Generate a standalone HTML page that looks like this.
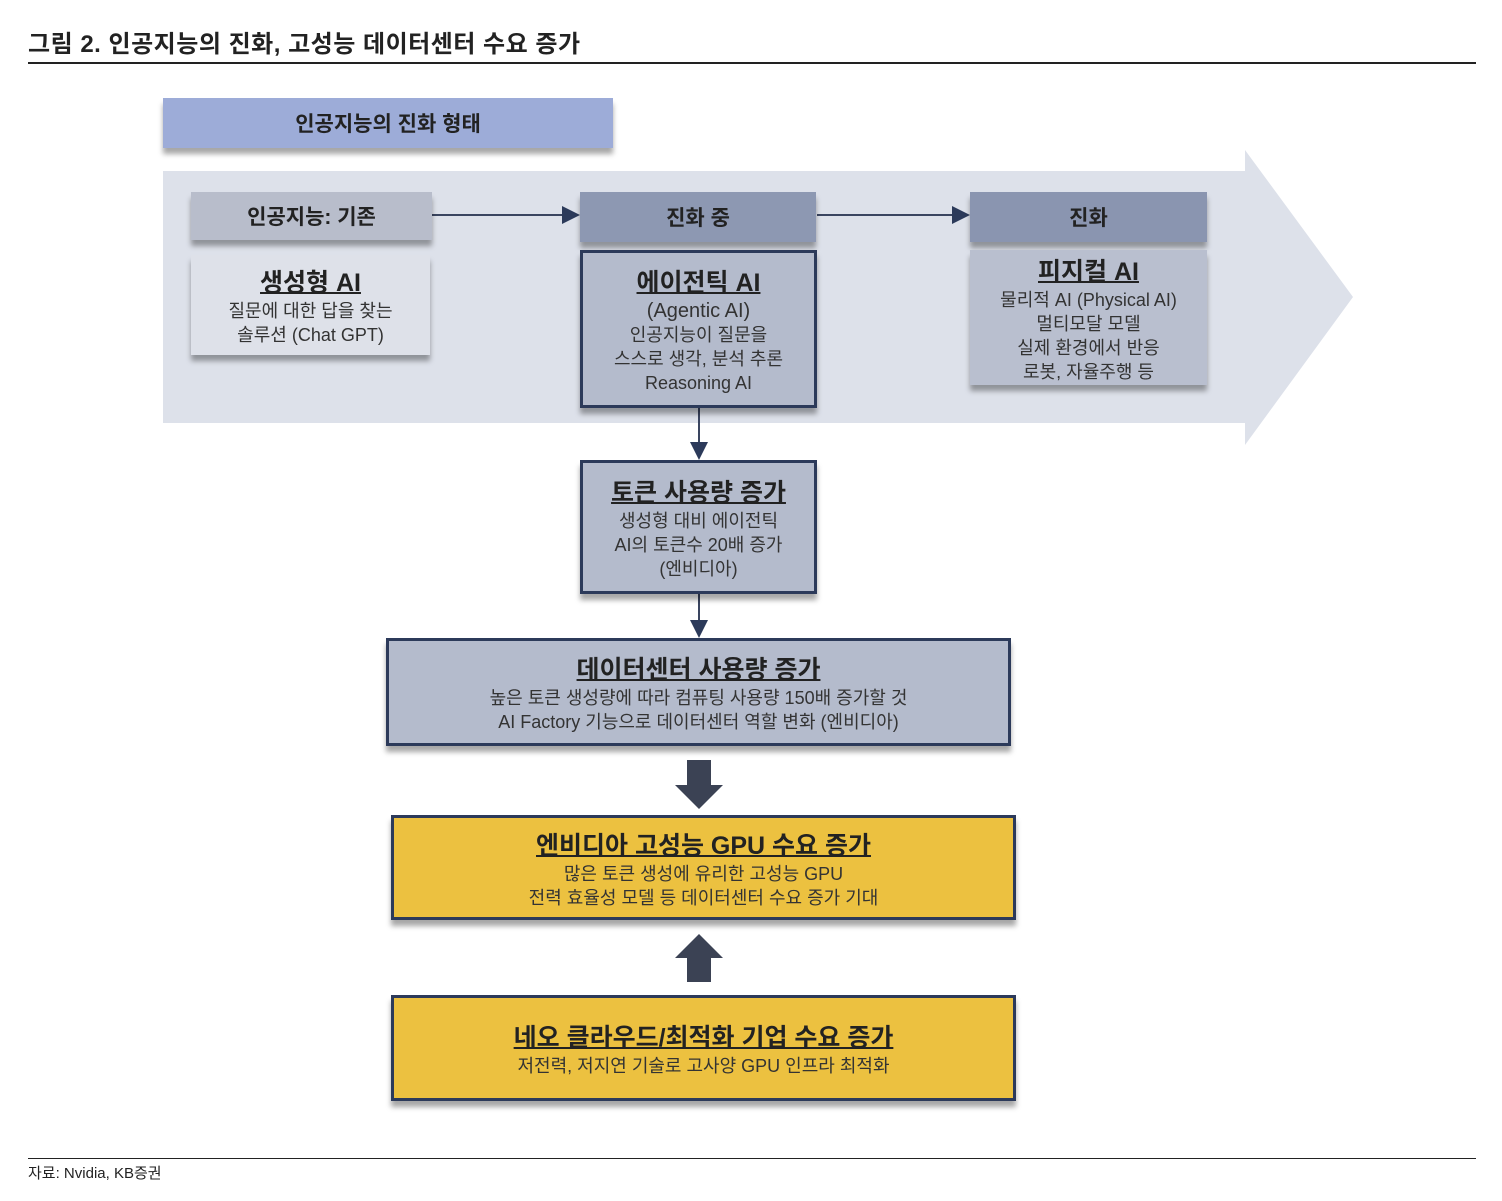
<!DOCTYPE html>
<html><head><meta charset="utf-8"><style>
body{margin:0;width:1502px;height:1201px;background:#fff;position:relative;font-family:"Liberation Sans","Noto Sans CJK KR",sans-serif;color:#222;overflow:hidden}
.a{position:absolute;box-sizing:border-box}
.c{display:flex;flex-direction:column;align-items:center;justify-content:center;text-align:center}
.sh{box-shadow:0 6px 5px rgba(0,0,0,0.35)}
.t{font-weight:bold;text-decoration:underline;text-decoration-thickness:2px}
.s{font-size:18px;line-height:24px;color:#333}
</style></head><body>
<div class="a" style="left:28px;top:24px;font-size:24px;font-weight:bold;letter-spacing:0.5px">그림 2. 인공지능의 진화, 고성능 데이터센터 수요 증가</div>
<div class="a" style="left:28px;top:62px;width:1448px;height:2px;background:#222"></div>

<div class="a c sh" style="left:163px;top:98px;width:450px;height:50px;background:#9dacd8;font-size:21px;font-weight:bold">인공지능의 진화 형태</div>

<svg class="a" style="left:0;top:0" width="1502" height="1201">
<polygon points="163,171 1245,171 1245,150 1353,297 1245,445 1245,423 163,423" fill="#dde1ea"/>
<line x1="432" y1="215" x2="566" y2="215" stroke="#3a4560" stroke-width="2"/>
<polygon points="562,206 580,215 562,224" fill="#2c3a5a"/>
<line x1="817" y1="215" x2="956" y2="215" stroke="#3a4560" stroke-width="2"/>
<polygon points="952,206 970,215 952,224" fill="#2c3a5a"/>
<line x1="699" y1="408" x2="699" y2="446" stroke="#3a4560" stroke-width="2"/>
<polygon points="690,442 708,442 699,460" fill="#2c3a5a"/>
<line x1="699" y1="594" x2="699" y2="624" stroke="#3a4560" stroke-width="2"/>
<polygon points="690,620 708,620 699,638" fill="#2c3a5a"/>
<polygon points="687,760 711,760 711,785 723,785 699,809 675,785 687,785" fill="#3b4254"/>
<polygon points="699,934 723,958 711,958 711,982 687,982 687,958 675,958" fill="#3b4254"/>
</svg>

<div class="a c sh" style="left:191px;top:192px;width:241px;height:48px;background:#b8bdcb;font-size:21px;font-weight:bold">인공지능: 기존</div>
<div class="a c sh" style="left:191px;top:255px;width:239px;height:100px;background:#dee1e9">
<div class="t" style="font-size:25px">생성형 AI</div><div class="s">질문에 대한 답을 찾는<br>솔루션 (Chat GPT)</div></div>

<div class="a c sh" style="left:580px;top:192px;width:236px;height:50px;background:#8d98b2;font-size:21px;font-weight:bold">진화 중</div>
<div class="a c sh" style="left:580px;top:250px;width:237px;height:158px;background:#b4bbcc;border:3px solid #2c3a5a">
<div class="t" style="font-size:25px">에이전틱 AI</div><div class="s" style="font-size:20px">(Agentic AI)</div><div class="s">인공지능이 질문을<br>스스로 생각, 분석 추론<br>Reasoning AI</div></div>

<div class="a c sh" style="left:970px;top:192px;width:237px;height:50px;background:#8a95b0;font-size:21px;font-weight:bold">진화</div>
<div class="a c sh" style="left:970px;top:250px;width:237px;height:135px;background:#b9bfcf">
<div class="t" style="font-size:25px">피지컬 AI</div><div class="s">물리적 AI (Physical AI)<br>멀티모달 모델<br>실제 환경에서 반응<br>로봇, 자율주행 등</div></div>

<div class="a c sh" style="left:580px;top:460px;width:237px;height:134px;background:#b4bbcc;border:3px solid #2c3a5a">
<div class="t" style="font-size:25px">토큰 사용량 증가</div><div class="s">생성형 대비 에이전틱<br>AI의 토큰수 20배 증가<br>(엔비디아)</div></div>

<div class="a c sh" style="left:386px;top:638px;width:625px;height:108px;background:#b4bbcc;border:3px solid #2c3a5a">
<div class="t" style="font-size:25px">데이터센터 사용량 증가</div><div class="s">높은 토큰 생성량에 따라 컴퓨팅 사용량 150배 증가할 것<br>AI Factory 기능으로 데이터센터 역할 변화 (엔비디아)</div></div>

<div class="a c sh" style="left:391px;top:815px;width:625px;height:105px;background:#ecc140;border:3px solid #2c3a5a">
<div class="t" style="font-size:25px">엔비디아 고성능 GPU 수요 증가</div><div class="s">많은 토큰 생성에 유리한 고성능 GPU<br>전력 효율성 모델 등 데이터센터 수요 증가 기대</div></div>

<div class="a c sh" style="left:391px;top:995px;width:625px;height:106px;background:#ecc140;border:3px solid #2c3a5a">
<div class="t" style="font-size:25px">네오 클라우드/최적화 기업 수요 증가</div><div class="s">저전력, 저지연 기술로 고사양 GPU 인프라 최적화</div></div>

<div class="a" style="left:28px;top:1158px;width:1448px;height:1px;background:#222"></div>
<div class="a" style="left:28px;top:1162px;font-size:15px">자료: Nvidia, KB증권</div>
</body></html>
